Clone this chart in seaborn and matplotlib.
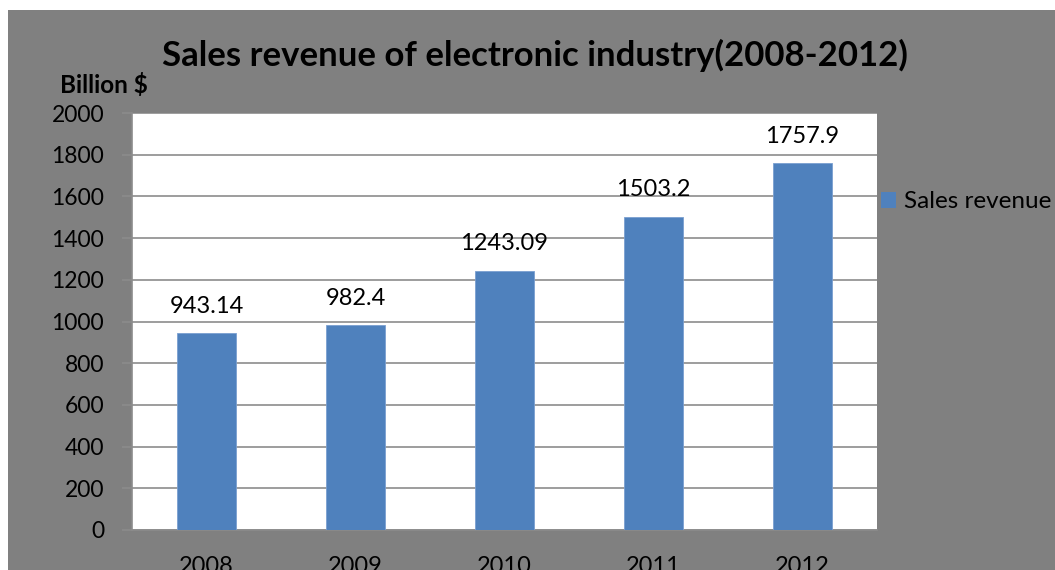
import matplotlib
matplotlib.use("Agg")
import matplotlib.pyplot as plt
import seaborn as sns
import pandas as pd
from matplotlib.patches import Rectangle, Patch
from matplotlib.ticker import FixedLocator

years = ["2008", "2009", "2010", "2011", "2012"]
revenue = [943.14, 982.4, 1243.09, 1503.2, 1757.9]
value_labels = ["943.14", "982.4", "1243.09", "1503.2", "1757.9"]
series_name = "Sales revenue"
title = "Sales revenue of electronic industry(2008-2012)"
y_unit = "Billion $"
y_ticks = [0, 200, 400, 600, 800, 1000, 1200, 1400, 1600, 1800, 2000]

df = pd.DataFrame({"year": years, "revenue": revenue})

sns.set_theme(style="white")
plt.rcParams["font.family"] = ["Lato", "DejaVu Sans"]

W, H = 1055, 570
fig = plt.figure(figsize=(W / 100, H / 100), dpi=100, facecolor="white")
fig.patches.append(Rectangle((8 / W, 0), 1, (H - 10) / H, transform=fig.transFigure,
                             facecolor="#808080", edgecolor="none", zorder=-10))

ax = fig.add_axes([132 / W, 1 - 530 / H, (877 - 132) / W, (530 - 113) / H])
ax.set_facecolor("white")
bar_color = "#4F81BD"
sns.barplot(data=df, x="year", y="revenue", color=bar_color, width=0.39,
            saturation=1, edgecolor="#7a9fd0", linewidth=0.6, ax=ax, zorder=3)

ax.set_xlim(-0.5, len(years) - 0.5)
ax.set_ylim(0, 2000)
ax.set_yticks(y_ticks)
ax.set_yticklabels([str(t) for t in y_ticks], fontsize=16.5, color="black")
ax.yaxis.grid(True, color="#8c8c8c", linewidth=1.2, zorder=0)
ax.set_axisbelow(True)

ax.tick_params(axis="x", which="major", length=0, pad=19, labelsize=17, labelcolor="black")
ax.xaxis.set_minor_locator(FixedLocator([i - 0.5 for i in range(len(years) + 1)]))
ax.tick_params(axis="x", which="minor", length=5, width=1.2, color="#8c8c8c", direction="out")
ax.tick_params(axis="y", length=7, width=1.2, color="#8c8c8c", direction="out", pad=13)
ax.tick_params(axis="y", left=True)
for s in ["top", "right"]:
    ax.spines[s].set_visible(False)
for s in ["left", "bottom"]:
    ax.spines[s].set_color("#8c8c8c")
    ax.spines[s].set_linewidth(1.2)
ax.set_xlabel("")
ax.set_ylabel("")

ax.bar_label(ax.containers[0], labels=value_labels, padding=12, fontsize=17, color="black")

fig.text(535 / W, 1 - 55 / H, title, ha="center", va="center", fontsize=25,
         fontweight="bold", color="black")
fig.text(104 / W, 1 - 85 / H, y_unit, ha="center", va="center", fontsize=17.5,
         fontweight="bold", color="black")

handle = Patch(facecolor=bar_color, edgecolor="none")
ax.legend(handles=[handle], labels=[series_name], loc="center left",
          bbox_to_anchor=(881 / W, 1 - 202 / H), bbox_transform=fig.transFigure,
          borderaxespad=0, borderpad=0, frameon=False, fontsize=17.5,
          handlelength=0.62, handleheight=0.62, handletextpad=0.32, labelcolor="black")

fig.savefig("out.png", dpi=100, facecolor="white")
